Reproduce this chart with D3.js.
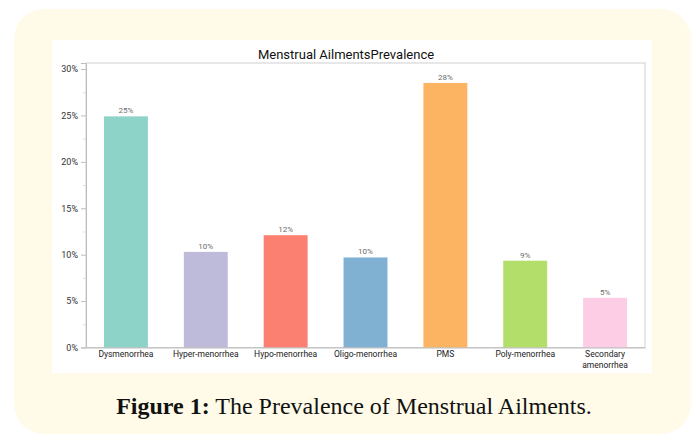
<!DOCTYPE html>
<html>
<head>
<meta charset="utf-8">
<script src="https://cdn.jsdelivr.net/npm/d3@7"></script>
<style>
html, body { margin: 0; padding: 0; background: #ffffff; }
svg { display: block; }
</style>
</head>
<body>
<svg id="chart" width="696" height="442"></svg>
<script>
// ---- data ----
const categories = ["Dysmenorrhea", "Hyper-menorrhea", "Hypo-menorrhea", "Oligo-menorrhea", "PMS", "Poly-menorrhea", "Secondary amenorrhea"];
const categoryLines = [["Dysmenorrhea"], ["Hyper-menorrhea"], ["Hypo-menorrhea"], ["Oligo-menorrhea"], ["PMS"], ["Poly-menorrhea"], ["Secondary", "amenorrhea"]];
const values = [24.9, 10.3, 12.1, 9.7, 28.5, 9.35, 5.35];
const valueLabels = ["25%", "10%", "12%", "10%", "28%", "9%", "5%"];
const barColors = ["#8dd3c7", "#bebada", "#fb8072", "#80b1d3", "#fdb462", "#b3de69", "#fccde5"];
const yTicks = [0, 5, 10, 15, 20, 25, 30];
const yMinorTicks = [2.5, 7.5, 12.5, 17.5, 22.5, 27.5];
const chartTitle = "Menstrual AilmentsPrevalence";

const svg = d3.select("#chart");

// outer cream panel
svg.append("rect").attr("x", 14).attr("y", 9).attr("width", 677).attr("height", 425)
  .attr("rx", 30).attr("fill", "#fffbe8");
// white chart panel
svg.append("rect").attr("x", 52).attr("y", 40).attr("width", 600).attr("height", 333)
  .attr("fill", "#ffffff");

const plot = { left: 86, right: 645, top: 63, bottom: 347.5 };

const x = d3.scaleBand().domain(categories).range([plot.left, plot.right]).paddingInner(0.45).paddingOuter(0.225);
const y = d3.scaleLinear().domain([0, 30.65]).range([plot.bottom, plot.top]);

// plot frame
svg.append("rect").attr("x", plot.left).attr("y", plot.top)
  .attr("width", plot.right - plot.left).attr("height", plot.bottom - plot.top)
  .attr("fill", "none").attr("stroke", "#cfcfcf").attr("stroke-width", 1);

// bars
svg.append("g").selectAll("rect").data(categories).join("rect")
  .attr("x", d => x(d)).attr("width", x.bandwidth())
  .attr("y", (d, i) => y(values[i])).attr("height", (d, i) => y(0) - y(values[i]))
  .attr("fill", (d, i) => barColors[i]);

// value labels
svg.append("g").selectAll("text").data(categories).join("text")
  .attr("x", d => x(d) + x.bandwidth() / 2)
  .attr("y", (d, i) => y(values[i]) - 3)
  .attr("text-anchor", "middle")
  .attr("font-family", "Roboto, sans-serif").attr("font-size", 8)
  .attr("fill", "#6b6b6b")
  .text((d, i) => valueLabels[i]);

// y axis
const yAxis = d3.axisLeft(y).tickValues(yTicks).tickSize(5).tickPadding(3).tickFormat(d => d + "%");
const gy = svg.append("g").attr("transform", `translate(${plot.left},0)`).call(yAxis);
gy.select(".domain").attr("stroke", "#bdbdbd");
gy.selectAll(".tick line").attr("stroke", "#bdbdbd");
gy.selectAll(".tick text").attr("font-family", "Roboto, sans-serif").attr("font-size", 9).attr("fill", "#333");
const yMinor = d3.axisLeft(y).tickValues(yMinorTicks).tickSize(3).tickFormat("");
const gym = svg.append("g").attr("transform", `translate(${plot.left},0)`).call(yMinor);
gym.select(".domain").remove();
gym.selectAll(".tick line").attr("stroke", "#dddddd");

// x axis
const xAxis = d3.axisBottom(x).tickSize(0).tickFormat("");
const gx = svg.append("g").attr("transform", `translate(0,${plot.bottom})`).call(xAxis);
gx.select(".domain").attr("stroke", "#bdbdbd");
const xl = svg.append("g").selectAll("text").data(categories).join("text")
  .attr("x", d => x(d) + x.bandwidth() / 2)
  .attr("y", plot.bottom + 9.5)
  .attr("text-anchor", "middle")
  .attr("font-family", "Roboto, sans-serif").attr("font-size", 8.5)
  .attr("fill", "#222");
xl.each(function (d, i) {
  const t = d3.select(this);
  categoryLines[i].forEach((line, k) => {
    t.append("tspan").attr("x", x(d) + x.bandwidth() / 2).attr("dy", k === 0 ? 0 : 11).text(line);
  });
});

// title
svg.append("text").attr("x", 346).attr("y", 59).attr("text-anchor", "middle")
  .attr("font-family", "Roboto, sans-serif").attr("font-size", 13).attr("fill", "#111")
  .text(chartTitle);

// caption
const cap = svg.append("text").attr("x", 354).attr("y", 414).attr("text-anchor", "middle")
  .attr("font-family", "'Liberation Serif', serif").attr("font-size", 24).attr("fill", "#111");
cap.append("tspan").attr("font-weight", "bold").text("Figure 1:");
cap.append("tspan").text(" The Prevalence of Menstrual Ailments.");
</script>
</body>
</html>
